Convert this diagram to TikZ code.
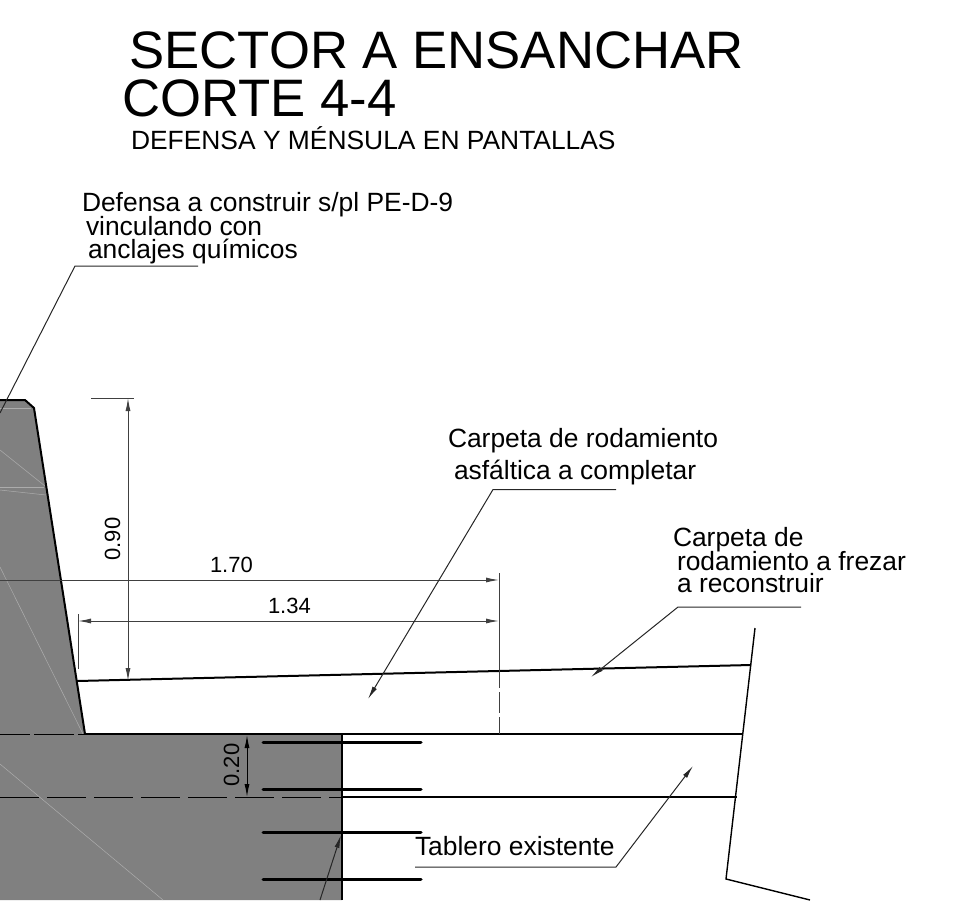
\documentclass[tikz,border=0pt]{standalone}
\usepackage{fontspec}
\setmainfont{Liberation Sans}
\usetikzlibrary{arrows.meta}
\definecolor{fillgray}{HTML}{808080}
\definecolor{linegray}{HTML}{404040}
\tikzset{
 txt/.style={anchor=base west,inner sep=0pt,outer sep=0pt,text=black},
 big/.style={font=\fontsize{52.7}{52.7}\selectfont},
 lab/.style={font=\fontsize{26.4}{26.4}\selectfont},
 num/.style={font=\fontsize{22}{22}\selectfont},
 dim/.style={draw=linegray,line width=1pt},
 tips/.style={{Latex[length=13pt,width=5pt]}-{Latex[length=13pt,width=5pt]}},
 tipe/.style={-{Latex[length=13pt,width=5pt]}},
 main/.style={draw=black,line width=2pt},
 mid/.style={draw=black,line width=1.4pt},
 bar/.style={draw=black,line width=3pt,line cap=round},
 lead/.style={draw=black!85,line width=1pt},
 faint/.style={draw=white!35!fillgray,line width=0.5pt},
}
\begin{document}
\begin{tikzpicture}[x=1pt,y=-1pt]
\useasboundingbox (0,0) rectangle (955,900);
% concrete
\fill[fillgray] (0,400)--(25,400)--(34,408)--(85,734)--(342,734)--(342,900)--(0,900)--cycle;
\draw[faint] (0,408)--(31,408);
\draw[faint] (0,450)--(45,486);
\draw[faint] (0,487)--(44,487);
\draw[faint] (0,490)--(46,495);
\draw[faint] (0,567)--(83,734);
\draw[faint] (0,764)--(163,900);
% outline
\draw[main] (0,400)--(25,400)--(34,408)--(85,734);
\draw[mid] (85,734)--(743,734);
\draw[draw=black,line width=1pt,dash pattern=on 30pt off 4pt on 40pt off 4pt] (0,734)--(85,734);
\draw[main] (77,681)--(751,665);
\draw[mid] (755,628)--(726,879)--(810,900);
\draw[mid] (342,734)--(342,900);
\draw[draw=black,line width=1pt,dash pattern=on 39pt off 8pt] (0,797)--(342,797);
\draw[mid] (342,797)--(737,797);
\draw[bar] (263,742)--(421,742);
\draw[bar] (263,789)--(421,789);
\draw[bar] (263,832)--(421,832);
\draw[bar] (263,879)--(421,879);
% dimensions
\coordinate (a1) at (128,398);
\coordinate (a2) at (128,681);
\draw[dim] (91,398)--(134,398);
\draw[dim,tips] (a1)--(a2);
\coordinate (b1) at (0,580);
\coordinate (b2) at (499,580);
\draw[dim,tipe] (b1)--(b2);
\coordinate (c1) at (78,621);
\coordinate (c2) at (499,621);
\draw[dim,tips] (c1)--(c2);
\draw[dim] (78,614)--(78,669);
\draw[dim] (499,573)--(499,688);
\draw[dim] (499,692)--(499,713);
\draw[dim] (499,717)--(499,734);
\coordinate (d1) at (247,735);
\coordinate (d2) at (247,797);
\draw[draw=black,line width=1pt,tips] (d1)--(d2);
% leaders
\draw[lead] (198,266)--(75,266)--(0,413);
\draw[lead,tipe] (616,489.5)--(493,489.5)--(368,699);
\draw[lead,tipe] (801,607)--(678,607)--(591,677);
\draw[lead,tipe] (415,867)--(616,867)--(693,766);
\draw[lead,tipe] (320,900)--(341,835);
% text
\node[txt,big] (t1) at (129.5,68) {SECTOR A ENSANCHAR};
\node[txt,big] (t2) at (122.5,116) {CORTE 4-4};
\node[txt,lab] (t3) at (131,149) {DEFENSA Y MÉNSULA EN PANTALLAS};
\node[txt,lab] (l1) at (82,211) {Defensa a construir s/pl PE-D-9};
\node[txt,lab] (l2) at (86,235) {vinculando con};
\node[txt,lab] (l3) at (88,258) {anclajes químicos};
\node[txt,lab] (l4) at (448,447) {Carpeta de rodamiento};
\node[txt,lab] (l5) at (454,479) {asfáltica a completar};
\node[txt,lab] (l6) at (673,546) {Carpeta de};
\node[txt,lab] (l7) at (677,570) {rodamiento a frezar};
\node[txt,lab] (l8) at (677,592) {a reconstruir};
\node[txt,lab] (l9) at (415,855) {Tablero existente};
\node[txt,num] (n1) at (210,572) {1.70};
\node[txt,num] (n2) at (268,613) {1.34};
\node[txt,num,rotate=90] (n3) at (120,560.5) {0.90};
\node[txt,num,rotate=90] (n4) at (239,786.5) {0.20};
\end{tikzpicture}
\end{document}
